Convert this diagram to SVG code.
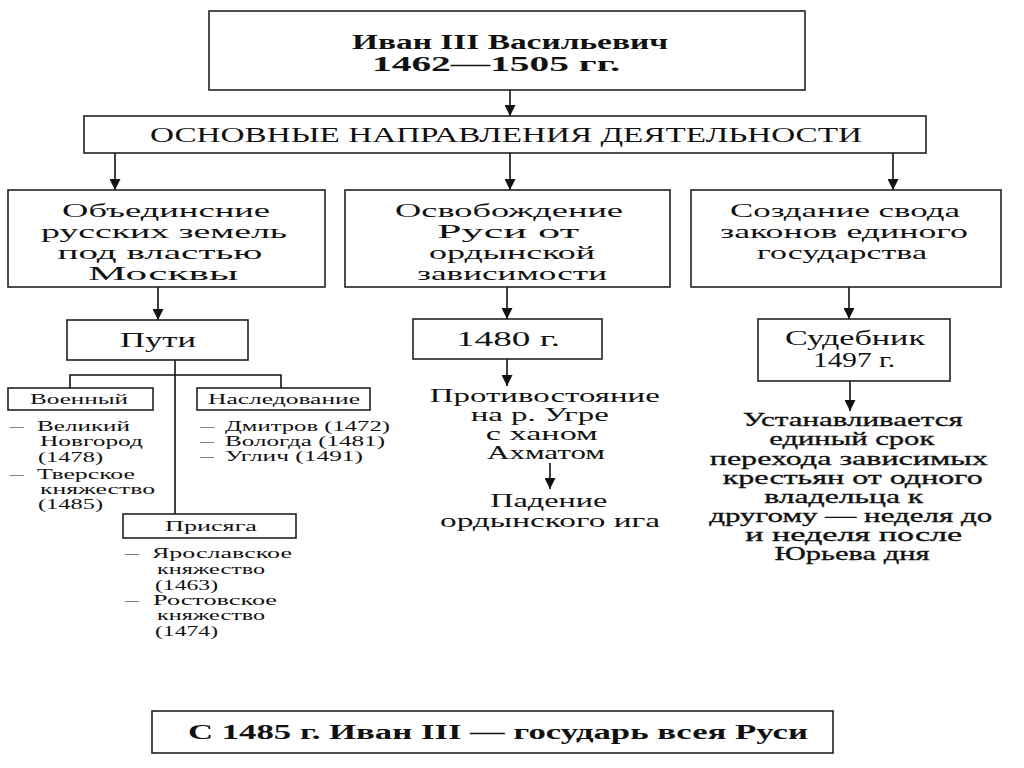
<svg xmlns="http://www.w3.org/2000/svg" width="1024" height="768" viewBox="0 0 1024 768">
<defs>
<marker id="ah" viewBox="0 0 10 10" refX="10" refY="5" markerWidth="11" markerHeight="11" markerUnits="userSpaceOnUse" orient="auto">
<path d="M0,0 L10,5 L0,10 z" fill="#111"/>
</marker>
<style>
.box{fill:#fff;stroke:#222;stroke-width:1.6}
.t{font-family:"Liberation Serif","DejaVu Serif",serif;fill:#111;text-anchor:middle}
.b{font-weight:bold}
.s{font-family:"Liberation Serif","DejaVu Serif",serif;fill:#111}
.ln{stroke:#111;stroke-width:1.6;fill:none}
.ar{stroke:#111;stroke-width:1.6;fill:none;marker-end:url(#ah)}
</style>
</defs>
<rect width="1024" height="768" fill="#fff"/>

<g id="connectors">
<line class="ar" x1="510" y1="90" x2="510" y2="116"/>
<line class="ar" x1="115" y1="153" x2="115" y2="190"/>
<line class="ar" x1="510" y1="153" x2="510" y2="190"/>
<line class="ar" x1="893" y1="153" x2="893" y2="190"/>
<line class="ar" x1="158" y1="287" x2="158" y2="320"/>
<line class="ar" x1="507" y1="287" x2="507" y2="319"/>
<line class="ar" x1="849" y1="287" x2="849" y2="319"/>
<line class="ln" x1="175" y1="360" x2="175" y2="514"/>
<polyline class="ln" points="70,388 70,375 281,375 281,388"/>
<line class="ar" x1="507" y1="359" x2="507" y2="386"/>
<line class="ar" x1="550" y1="463" x2="550" y2="489"/>
<line class="ar" x1="850" y1="381" x2="850" y2="411"/>
</g>

<g id="ivan">
<rect class="box" x="209" y="11" width="596" height="79"/>
<text class="t b" x="510" y="49" font-size="20" textLength="316" lengthAdjust="spacingAndGlyphs">Иван III Васильевич</text>
<text class="t b" x="496" y="71" font-size="20" textLength="248" lengthAdjust="spacingAndGlyphs">1462—1505 гг.</text>
</g>

<g id="main">
<rect class="box" x="84" y="116" width="842" height="37"/>
<text class="t" x="506" y="142" font-size="20" textLength="712" lengthAdjust="spacingAndGlyphs">ОСНОВНЫЕ НАПРАВЛЕНИЯ ДЕЯТЕЛЬНОСТИ</text>
</g>

<g id="unite">
<rect class="box" x="8" y="190" width="317" height="97"/>
<text class="t" x="166" y="217" font-size="19" textLength="208" lengthAdjust="spacingAndGlyphs">Объединсние</text>
<text class="t" x="164" y="238" font-size="19" textLength="246" lengthAdjust="spacingAndGlyphs">русских земель</text>
<text class="t" x="160" y="259" font-size="19" textLength="205" lengthAdjust="spacingAndGlyphs">под властью</text>
<text class="t" x="163" y="280" font-size="19" textLength="150" lengthAdjust="spacingAndGlyphs">Москвы</text>
</g>

<g id="liberation">
<rect class="box" x="345" y="190" width="325" height="97"/>
<text class="t" x="509" y="217" font-size="19" textLength="228" lengthAdjust="spacingAndGlyphs">Освобождение</text>
<text class="t" x="508" y="238" font-size="19" textLength="142" lengthAdjust="spacingAndGlyphs">Руси от</text>
<text class="t" x="512" y="259" font-size="19" textLength="166" lengthAdjust="spacingAndGlyphs">ордынской</text>
<text class="t" x="512" y="280" font-size="19" textLength="190" lengthAdjust="spacingAndGlyphs">зависимости</text>
</g>

<g id="laws">
<rect class="box" x="691" y="190" width="310" height="97"/>
<text class="t" x="845" y="217" font-size="19" textLength="230" lengthAdjust="spacingAndGlyphs">Создание свода</text>
<text class="t" x="844" y="238" font-size="19" textLength="248" lengthAdjust="spacingAndGlyphs">законов единого</text>
<text class="t" x="842" y="259" font-size="19" textLength="170" lengthAdjust="spacingAndGlyphs">государства</text>
</g>

<g id="puti">
<rect class="box" x="67" y="320" width="181" height="40"/>
<text class="t" x="158" y="347" font-size="20" textLength="76" lengthAdjust="spacingAndGlyphs">Пути</text>
</g>

<g id="y1480">
<rect class="box" x="413" y="319" width="189" height="40"/>
<text class="t" x="508" y="346" font-size="20" textLength="104" lengthAdjust="spacingAndGlyphs">1480 г.</text>
</g>

<g id="sudebnik">
<rect class="box" x="758" y="319" width="192" height="62"/>
<text class="t" x="855" y="345" font-size="20" textLength="140" lengthAdjust="spacingAndGlyphs">Судебник</text>
<text class="t" x="854" y="367" font-size="20" textLength="82" lengthAdjust="spacingAndGlyphs">1497 г.</text>
</g>

<g id="voenny">
<rect class="box" x="8" y="388" width="145" height="22"/>
<text class="t" x="79" y="404" font-size="14" textLength="98" lengthAdjust="spacingAndGlyphs">Военный</text>
</g>

<g id="nasled">
<rect class="box" x="197" y="388" width="173" height="22"/>
<text class="t" x="284" y="404" font-size="14" textLength="152" lengthAdjust="spacingAndGlyphs">Наследование</text>
</g>

<g id="voenny-list">
<text class="s" font-size="14">
<tspan x="10" y="431">—</tspan><tspan x="37" y="431" textLength="93" lengthAdjust="spacingAndGlyphs">Великий</tspan>
<tspan x="40" y="446" textLength="103" lengthAdjust="spacingAndGlyphs">Новгород</tspan>
<tspan x="38" y="462" textLength="65" lengthAdjust="spacingAndGlyphs">(1478)</tspan>
<tspan x="10" y="479">—</tspan><tspan x="37" y="479" textLength="98" lengthAdjust="spacingAndGlyphs">Тверское</tspan>
<tspan x="40" y="494" textLength="115" lengthAdjust="spacingAndGlyphs">княжество</tspan>
<tspan x="38" y="509" textLength="65" lengthAdjust="spacingAndGlyphs">(1485)</tspan>
</text>
</g>

<g id="nasled-list">
<text class="s" font-size="14">
<tspan x="200" y="431">—</tspan><tspan x="225" y="431" textLength="165" lengthAdjust="spacingAndGlyphs">Дмитров (1472)</tspan>
<tspan x="200" y="446">—</tspan><tspan x="225" y="446" textLength="160" lengthAdjust="spacingAndGlyphs">Вологда (1481)</tspan>
<tspan x="200" y="461">—</tspan><tspan x="225" y="461" textLength="138" lengthAdjust="spacingAndGlyphs">Углич (1491)</tspan>
</text>
</g>

<g id="prisyaga">
<rect class="box" x="123" y="514" width="173" height="24"/>
<text class="t" x="211" y="531" font-size="14" textLength="92" lengthAdjust="spacingAndGlyphs">Присяга</text>
</g>

<g id="prisyaga-list">
<text class="s" font-size="14">
<tspan x="125" y="558">—</tspan><tspan x="152" y="558" textLength="140" lengthAdjust="spacingAndGlyphs">Ярославское</tspan>
<tspan x="157" y="574" textLength="108" lengthAdjust="spacingAndGlyphs">княжество</tspan>
<tspan x="155" y="590" textLength="63" lengthAdjust="spacingAndGlyphs">(1463)</tspan>
<tspan x="125" y="605">—</tspan><tspan x="153" y="605" textLength="124" lengthAdjust="spacingAndGlyphs">Ростовское</tspan>
<tspan x="157" y="620" textLength="108" lengthAdjust="spacingAndGlyphs">княжество</tspan>
<tspan x="155" y="636" textLength="63" lengthAdjust="spacingAndGlyphs">(1474)</tspan>
</text>
</g>

<g id="ugra">
<text class="t" font-size="18">
<tspan x="547" y="402" textLength="230" lengthAdjust="spacingAndGlyphs">Противостояние</tspan>
<tspan x="542" y="421" textLength="138" lengthAdjust="spacingAndGlyphs">на р. Угре</tspan>
<tspan x="544" y="440" textLength="112" lengthAdjust="spacingAndGlyphs">с ханом</tspan>
<tspan x="546" y="459" textLength="118" lengthAdjust="spacingAndGlyphs">Ахматом</tspan>
</text>
</g>

<g id="fall">
<text class="t" font-size="18">
<tspan x="551" y="507" textLength="117" lengthAdjust="spacingAndGlyphs">Падение</tspan>
<tspan x="550" y="527" textLength="220" lengthAdjust="spacingAndGlyphs">ордынского ига</tspan>
</text>
</g>

<g id="yuriev">
<text class="t" font-size="18" stroke="#111" stroke-width="0.3">
<tspan x="855" y="426" textLength="220" lengthAdjust="spacingAndGlyphs">Устанавливается</tspan>
<tspan x="854" y="445" textLength="165" lengthAdjust="spacingAndGlyphs">единый срок</tspan>
<tspan x="851" y="465" textLength="278" lengthAdjust="spacingAndGlyphs">перехода зависимых</tspan>
<tspan x="855" y="484" textLength="260" lengthAdjust="spacingAndGlyphs">крестьян от одного</tspan>
<tspan x="846" y="503" textLength="159" lengthAdjust="spacingAndGlyphs">владельца к</tspan>
<tspan x="853" y="522" textLength="283" lengthAdjust="spacingAndGlyphs">другому — неделя до</tspan>
<tspan x="856" y="541" textLength="217" lengthAdjust="spacingAndGlyphs">и неделя после</tspan>
<tspan x="852" y="560" textLength="155" lengthAdjust="spacingAndGlyphs">Юрьева дня</tspan>
</text>
</g>

<g id="gosudar">
<rect class="box" x="152" y="711" width="681" height="42"/>
<text class="t b" x="498" y="739" font-size="20" textLength="620" lengthAdjust="spacingAndGlyphs">С 1485 г. Иван III — государь всея Руси</text>
</g>
</svg>
